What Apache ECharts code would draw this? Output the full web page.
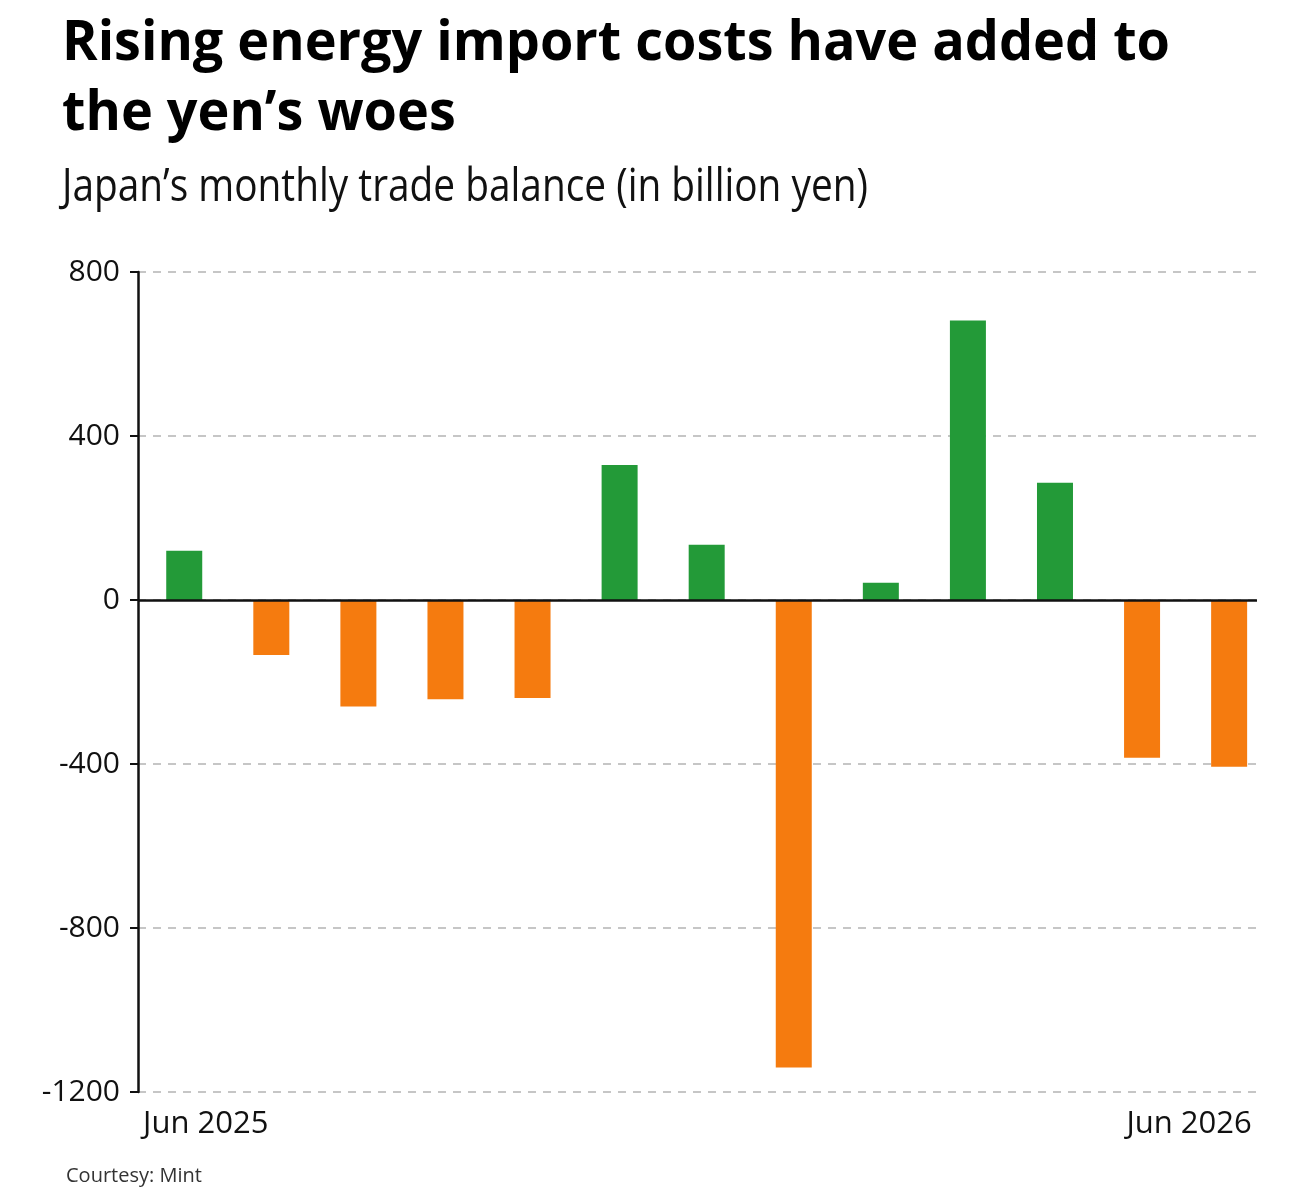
<!DOCTYPE html>
<html>
<head>
<meta charset="utf-8">
<script src="https://cdn.jsdelivr.net/npm/echarts@6/dist/echarts.min.js"></script>
<style>
html,body{margin:0;padding:0;background:#fff;}
#chart{width:1312px;height:1199px;}
</style>
</head>
<body>
<div id="chart"></div>
<script>
// ---- data ----
const months = ['Jun 2025','Jul 2025','Aug 2025','Sep 2025','Oct 2025','Nov 2025','Dec 2025',
                'Jan 2026','Feb 2026','Mar 2026','Apr 2026','May 2026','Jun 2026'];
const tradeBalance = [120, -134, -260, -242, -239, 329, 135, -1140, 42, 682, 286, -385, -407];
const yTicks = [-1200, -800, -400, 0, 400, 800];
const titleLines = ['Rising energy import costs have added to', 'the yen\u2019s woes'];
const subtitleText = 'Japan\u2019s monthly trade balance (in billion yen)';
const sourceText = 'Courtesy: Mint';

// ---- helpers ----
const FONT = '"Open Sans", "Noto Sans", "DejaVu Sans", sans-serif';
const ctx = document.createElement('canvas').getContext('2d');
function textWidth(t, weight, size) {
  ctx.font = weight + ' ' + size + 'px ' + FONT;
  return ctx.measureText(t).width;
}
const TITLE_SIZE = 56, SUB_SIZE = 45;
const titleScale = 1108 / textWidth(titleLines[0], 'bold', TITLE_SIZE);
const subScale = 806 / textWidth(subtitleText, 'normal', SUB_SIZE);

const xMin = -0.531, xMax = 12.32;

const chart = echarts.init(document.getElementById('chart'), null, {renderer: 'canvas'});
chart.setOption({
  backgroundColor: '#ffffff',
  animation: false,
  grid: {left: 138, right: 55, top: 272, bottom: 107, containLabel: false},
  xAxis: {
    type: 'value',
    min: xMin,
    max: xMax,
    axisLine: {show: false},
    axisTick: {show: false},
    splitLine: {show: false},
    axisLabel: {
      customValues: [xMin + 0.058, xMax - 0.061],
      formatter: v => (v < 6 ? months[0] : months[months.length - 1]),
      alignMinLabel: 'left',
      alignMaxLabel: 'right',
      fontFamily: FONT,
      fontSize: 31,
      color: '#111',
      margin: 17
    }
  },
  yAxis: {
    type: 'value',
    min: yTicks[0],
    max: yTicks[yTicks.length - 1],
    interval: 400,
    axisLine: {show: true, onZero: false, lineStyle: {color: '#111', width: 2.5}},
    axisTick: {show: true, length: 8, lineStyle: {color: '#111', width: 2}},
    axisLabel: {fontFamily: FONT, fontSize: 30, color: '#111', margin: 18, formatter: v => String(v)},
    splitLine: {show: true, lineStyle: {color: '#b4b4b4', width: 1.6, type: [8, 7]}}
  },
  series: [{
    type: 'bar',
    barWidth: 36,
    data: tradeBalance.map((v, i) => [i, v]),
    itemStyle: {
      color: p => (p.value[1] >= 0 ? '#239a38' : '#f57b0f')
    },
    markLine: {
      silent: true,
      symbol: 'none',
      label: {show: false},
      lineStyle: {color: '#111', width: 2.5, type: 'solid'},
      data: [{yAxis: 0}]
    }
  }],
  graphic: [
    {type: 'text', x: 62, y: 44, scaleX: titleScale,
     style: {text: titleLines[0], font: 'bold ' + TITLE_SIZE + 'px ' + FONT, fill: '#000', verticalAlign: 'middle', align: 'left'}},
    {type: 'text', x: 62, y: 114, scaleX: titleScale,
     style: {text: titleLines[1], font: 'bold ' + TITLE_SIZE + 'px ' + FONT, fill: '#000', verticalAlign: 'middle', align: 'left'}},
    {type: 'text', x: 62, y: 188, scaleX: subScale,
     style: {text: subtitleText, font: 'normal ' + SUB_SIZE + 'px ' + FONT, fill: '#111', verticalAlign: 'middle', align: 'left'}},
    {type: 'text', x: 66, y: 1176,
     style: {text: sourceText, font: 'normal 20px ' + FONT, fill: '#333', verticalAlign: 'middle', align: 'left'}}
  ]
});
</script>
</body>
</html>
